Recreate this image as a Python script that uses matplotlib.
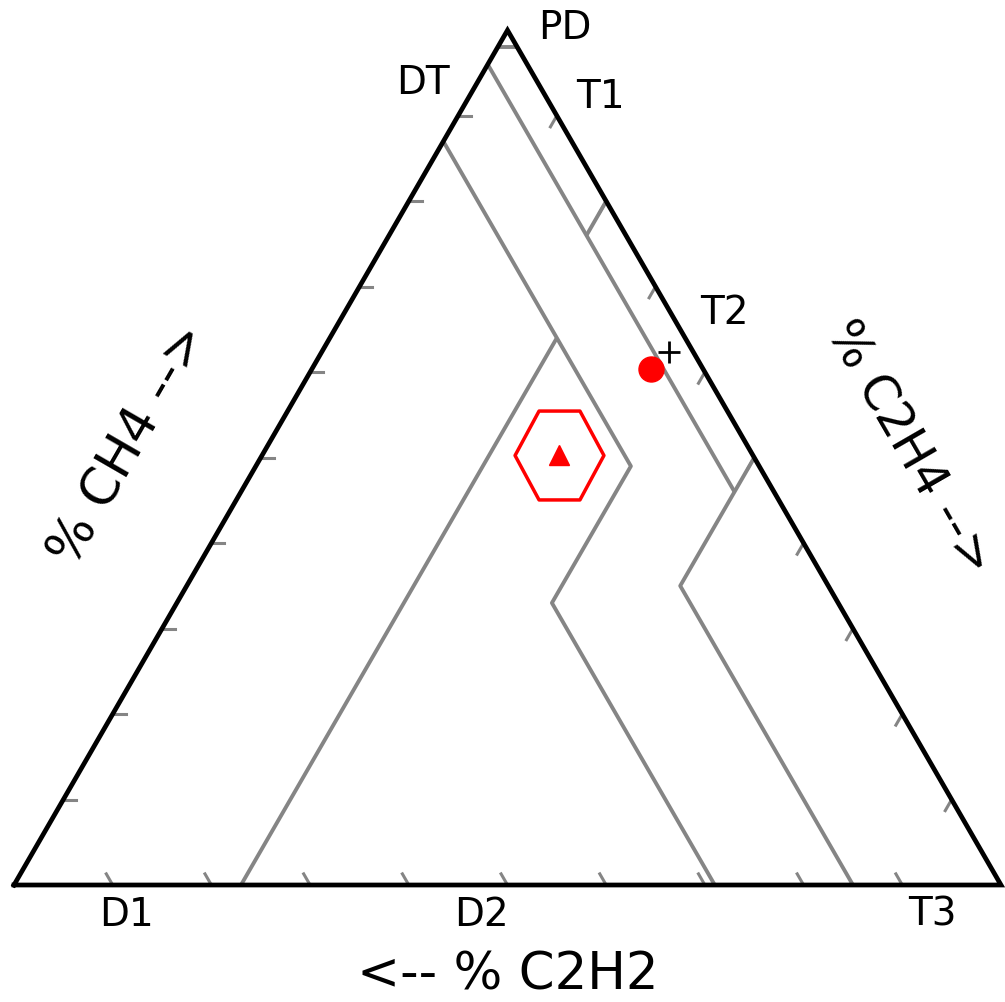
import numpy as np
import matplotlib.pyplot as plt
from matplotlib.path import Path

# Duval triangle zone boundaries, points given as (CH4, C2H4, C2H2) in %
pd_line = [(98, 0, 2), (98, 2, 0)]
t1_line = [(96, 0, 4), (46, 50, 4)]
t1_t2_line = [(76, 20, 4), (80, 20, 0)]
t2_t3_line = [(50, 50, 0), (35, 50, 15), (0, 85, 15)]
dt_line = [(87, 0, 13), (49, 38, 13), (33, 38, 29), (0, 71, 29)]
d1_d2_line = [(0, 23, 77), (64, 23, 13)]
zone_lines = [pd_line, t1_line, t1_t2_line, t2_t3_line, dt_line, d1_d2_line]

# tick positions on each side (%)
tick_values = [10, 20, 30, 40, 50, 60, 70, 80, 90]

# gas samples (CH4, C2H4, C2H2)
sample_circle = (60.4, 34.3, 5.3)
sample_plus = (62.4, 35.2, 2.4)
sample_hex = (50.3, 30.1, 19.6)

zone_names = ["PD", "DT", "T1", "T2", "D1", "D2", "T3"]
zone_label_xy = [(0.558, 0.868), (0.414, 0.813), (0.594, 0.798), (0.720, 0.580),
                 (0.1135, -0.030), (0.474, -0.030), (0.930, -0.030)]

SQ3 = np.sqrt(3) / 2


def tern(pts):
    pts = np.atleast_2d(np.asarray(pts, dtype=float))
    tot = pts.sum(axis=1)
    ch4, c2h4 = pts[:, 0] / tot, pts[:, 1] / tot
    return c2h4 + ch4 / 2, ch4 * SQ3


fig = plt.figure(figsize=(10.05, 10.02), dpi=100)
ax = fig.add_axes([0, 0, 1, 1])
ax.set_xlim(-0.01418, 1.00405)
ax.set_ylim(-0.11854, 0.89666)
ax.axis("off")

gray = "#858585"

# zone boundaries
for line in zone_lines:
    x, y = tern(line)
    ax.plot(x, y, color=gray, lw=2.8, solid_capstyle="butt", zorder=2)

# tick stubs
tl = 0.013
for v in tick_values:
    # CH4 on the left side, horizontal stubs
    x, y = tern([(v, 0, 100 - v)])
    ax.plot([x[0], x[0] + tl], [y[0], y[0]], color=gray, lw=2.2, zorder=2)
    # C2H4 on the right side
    x, y = tern([(100 - v, v, 0)])
    ax.plot([x[0], x[0] - 0.5 * tl], [y[0], y[0] - SQ3 * tl], color=gray, lw=2.2, zorder=2)
    # C2H2 on the bottom
    x, y = tern([(0, 100 - v, v)])
    ax.plot([x[0], x[0] - 0.5 * tl], [y[0], y[0] + SQ3 * tl], color=gray, lw=2.2, zorder=2)

# outer triangle
bx, by = tern([(0, 0, 100), (0, 100, 0), (100, 0, 0), (0, 0, 100)])
ax.plot(bx, by, color="black", lw=3.4, solid_joinstyle="miter", zorder=3)

# samples
x, y = tern(sample_circle)
ax.plot(x, y, "o", color="red", ms=18, zorder=4)
x, y = tern(sample_plus)
ax.plot(x, y, "+", color="black", ms=16, mew=2, zorder=4)
x, y = tern(sample_hex)
hex_marker = Path([(-1, 0), (-0.46, 1), (0.46, 1), (1, 0), (0.46, -1), (-0.46, -1), (-1, 0)],
                  closed=True)
ax.plot(x, y, marker=hex_marker, ms=64, mfc="none", mec="red", mew=2.5, ls="none", zorder=4)
ax.plot(x, y, "^", color="red", ms=15, zorder=4)

# zone labels
for name, (lx, ly) in zip(zone_names, zone_label_xy):
    ax.text(lx, ly, name, fontsize=28, ha="center", va="center")

# axis labels
ax.text(0.5005, -0.0912, "<-- % C2H2", fontsize=37, ha="center", va="center")
ax.text(0.117, 0.446, "% CH4 -->", fontsize=37, rotation=60, ha="center", va="center",
        rotation_mode="anchor")
ax.text(0.907, 0.443, "% C2H4 -->", fontsize=35, rotation=-60, ha="center", va="center",
        rotation_mode="anchor")

fig.savefig("out.png", dpi=100)
